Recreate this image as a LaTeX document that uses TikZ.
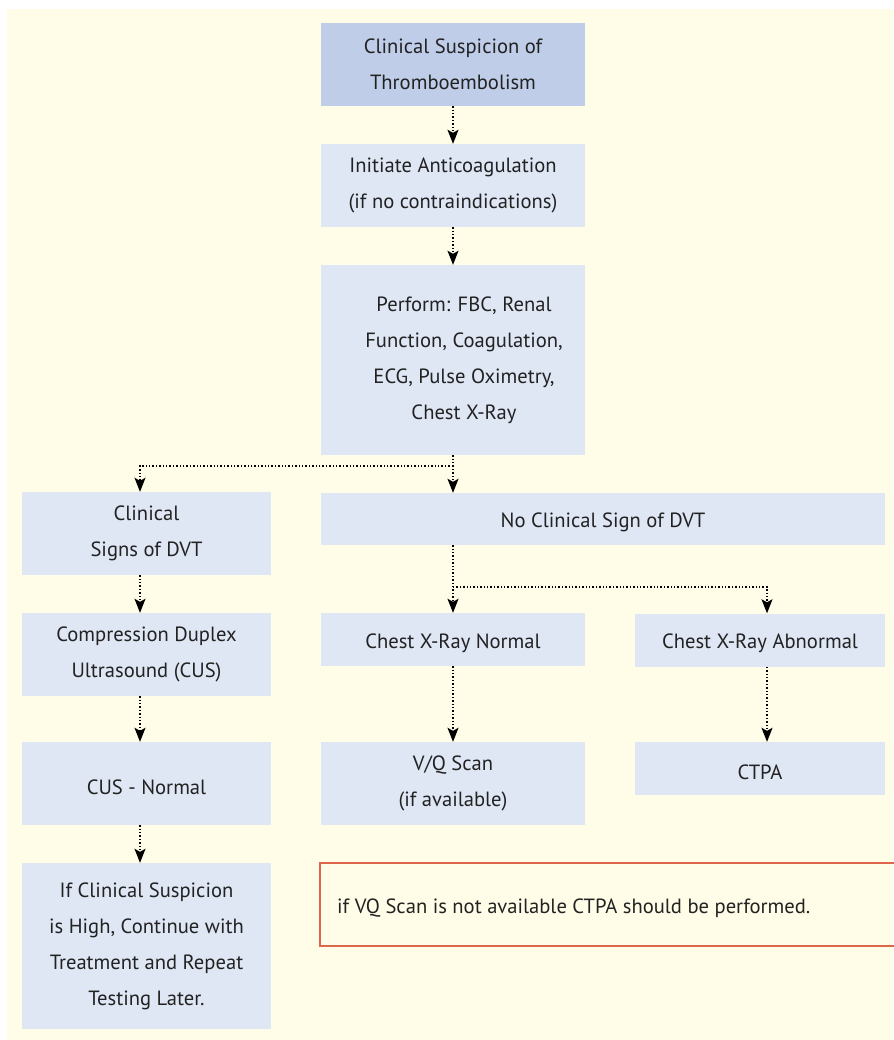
\documentclass[tikz,border=0pt]{standalone}
\usepackage{fontspec}
\setmainfont{PT Sans}
\usetikzlibrary{arrows.meta}
\definecolor{bgyellow}{RGB}{255,253,231}
\definecolor{boxblue}{RGB}{223,231,245}
\definecolor{topblue}{RGB}{191,205,233}
\definecolor{notered}{RGB}{222,102,76}
\definecolor{ink}{RGB}{34,34,34}
\begin{document}
\begin{tikzpicture}[x=1pt,y=-1pt,
  words/.style={inner sep=0pt, text=ink, align=center,
    font=\fontsize{20.6}{36}\selectfont,
    execute at begin node={\rule{0pt}{21.5pt}}},
  box/.style={words, fill=boxblue, draw=none},
  link/.style={dotted, line width=1.4pt, -{Stealth[length=14pt,width=11pt,inset=3pt]}},
  note/.style={draw=notered, line width=2.5pt, fill=none, inner sep=0pt}
]
% page and panel
\useasboundingbox (0,0) rectangle (893,1040);
\fill[white] (0,0) rectangle (893,1040);
\fill[bgyellow] (7,9) rectangle (893,1040);

% centre column
\node[box, fill=topblue, minimum width=264pt, minimum height=83pt] (b1) at (453,64.5)
  {Clinical Suspicion of\\Thromboembolism};
\node[box, minimum width=264pt, minimum height=83pt] (b2) at (453,185.5)
  {Initiate Anticoagulation\\(if no contraindications)};
\node[box, minimum width=264pt, minimum height=190pt] (b3) at (453,360) {};
\node[words] (b3t) at (464,360)
  {Perform: FBC, Renal\\Function, Coagulation,\\ECG, Pulse Oximetry,\\Chest X-Ray};
\node[box, minimum width=564pt, minimum height=52pt] (b5) at (603,519)
  {No Clinical Sign of DVT};
\node[box, minimum width=264pt, minimum height=53pt] (b7) at (453,639.5)
  {Chest X-Ray Normal};
\node[box, minimum width=264pt, minimum height=83pt] (b10) at (453,783.5)
  {V/Q Scan\\(if available)};

% right column
\node[box, minimum width=250pt, minimum height=53pt] (b8) at (760,640)
  {Chest X-Ray Abnormal};
\node[box, minimum width=250pt, minimum height=53pt] (b11) at (760,768.5)
  {CTPA};

% left column
\node[box, minimum width=249pt, minimum height=83pt] (b4) at (146.5,533.5)
  {Clinical\\Signs of DVT};
\node[box, minimum width=249pt, minimum height=83pt] (b6) at (146.5,654.5)
  {Compression Duplex\\Ultrasound (CUS)};
\node[box, minimum width=249pt, minimum height=83pt] (b9) at (146.5,783.5)
  {CUS - Normal};
\node[box, minimum width=249pt, minimum height=166pt] (b12) at (146.5,946)
  {If Clinical Suspicion\\is High, Continue with\\Treatment and Repeat\\Testing Later.};

% remark
\node[note, minimum width=585pt, minimum height=83pt] (rem) at (612.5,904.5) {};
\node[words, anchor=west] (remt) at (337,904.5)
  {if VQ Scan is not available CTPA should be performed.};

% connectors
\coordinate (j1) at (453,466);
\coordinate (j2) at (453,587);
\draw[link] (b1) -- (b2);
\draw[link] (b2) -- (b3);
\draw[link] (b3.south) -- (b3.south |- b5.north);
\draw[link] (j1) -| ([xshift=-6.5pt]b4.north);
\draw[link] ([xshift=-6.5pt]b4.south) -- ([xshift=-6.5pt]b6.north);
\draw[link] ([xshift=-6.5pt]b6.south) -- ([xshift=-6.5pt]b9.north);
\draw[link] ([xshift=-6.5pt]b9.south) -- ([xshift=-6.5pt]b12.north);
\draw[link] (b7.north |- b5.south) -- (b7.north);
\draw[link] (j2) -| ([xshift=7pt]b8.north);
\draw[link] (b7) -- (b10);
\draw[link] ([xshift=7pt]b8.south) -- ([xshift=7pt]b11.north);
\end{tikzpicture}
\end{document}
